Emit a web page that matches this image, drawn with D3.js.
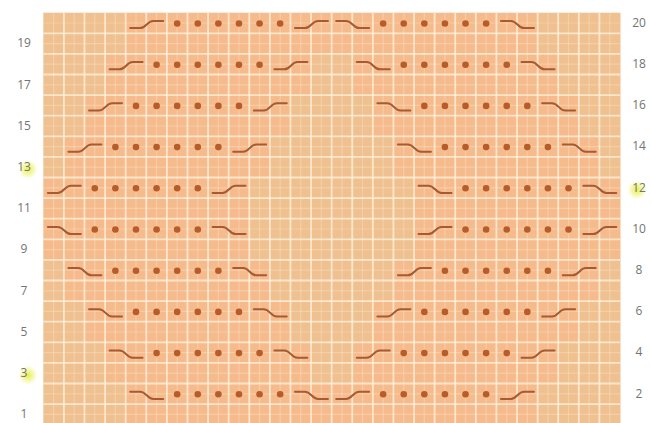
<!DOCTYPE html>
<html><head><meta charset="utf-8">
<script src="https://cdn.jsdelivr.net/npm/d3@7"></script>
<style>html,body{margin:0;padding:0;background:#fff;}svg{display:block;}</style>
</head><body>
<script>
// ---- data ----
const nCols = 28;
const rowLabelsLeft = [1,3,5,7,9,11,13,15,17,19];
const rowLabelsRight = [2,4,6,8,10,12,14,16,18,20];
const highlighted = [13,3,12];
// cable crossing symbols: [row, first column] (each spans two columns)
const cablesUp = [[20,4],[20,12],[18,3],[18,11],[16,2],[16,10],[14,1],[14,9],[12,0],[12,8],
                  [10,18],[10,26],[8,17],[8,25],[6,16],[6,24],[4,15],[4,23],[2,14],[2,22]];
const cablesDown = [[20,14],[20,22],[18,15],[18,23],[16,16],[16,24],[14,17],[14,25],[12,18],[12,26],
                    [10,0],[10,8],[8,1],[8,9],[6,2],[6,10],[4,3],[4,11],[2,4],[2,12]];
// dot (purl) cells per row
const dotRows = [20,18,16,14,12,10,8,6,4,2];
const dotCols = [
  [6,7,8,9,10,11,16,17,18,19,20,21],
  [5,6,7,8,9,10,17,18,19,20,21,22],
  [4,5,6,7,8,9,18,19,20,21,22,23],
  [3,4,5,6,7,8,19,20,21,22,23,24],
  [2,3,4,5,6,7,20,21,22,23,24,25],
  [2,3,4,5,6,7,20,21,22,23,24,25],
  [3,4,5,6,7,8,19,20,21,22,23,24],
  [4,5,6,7,8,9,18,19,20,21,22,23],
  [5,6,7,8,9,10,17,18,19,20,21,22],
  [6,7,8,9,10,11,16,17,18,19,20,21]
];

// ---- drawing ----
const W = 651, H = 423;
const svg = d3.select("body").append("svg").attr("width", W).attr("height", H);
const defs = svg.append("defs");
const rg = defs.append("radialGradient").attr("id","hl");
rg.append("stop").attr("offset","0%").attr("stop-color","#e6ee48").attr("stop-opacity",1);
rg.append("stop").attr("offset","55%").attr("stop-color","#eef37a").attr("stop-opacity",0.6);
rg.append("stop").attr("offset","100%").attr("stop-color","#f6f8a0").attr("stop-opacity",0);
const blur = defs.append("filter").attr("id","soft");
blur.append("feGaussianBlur").attr("stdDeviation",0.7);
const blurG = defs.append("filter").attr("id","softg");
blurG.append("feGaussianBlur").attr("stdDeviation",0.5);

const rows = d3.range(20, 0, -1);
const x = d3.scaleBand().domain(d3.range(nCols)).range([43.3, 620]).padding(0);
const y = d3.scaleBand().domain(rows).range([12.7, 424.7]).padding(0);
const cw = x.bandwidth(), ch = y.bandwidth();

// band cells (pink tint) = symbol cells in even rows and the odd row below
const bandSet = new Set();
function addBand(r, c){ bandSet.add(r+"_"+c); if (r-1>=1) bandSet.add((r-1)+"_"+c); }
dotRows.forEach((r,i)=>dotCols[i].forEach(c=>addBand(r,c)));
cablesUp.concat(cablesDown).forEach(([r,c])=>{addBand(r,c); addBand(r,c+1);});

const cells = [];
rows.forEach(r=>d3.range(nCols).forEach(c=>cells.push({r,c})));
const g = svg.append("g");
g.selectAll("rect.cell").data(cells).join("rect").attr("class","cell")
  .attr("x", d=>x(d.c)).attr("y", d=>y(d.r))
  .attr("width", cw+0.5).attr("height", ch+0.5)
  .attr("fill", d=> bandSet.has(d.r+"_"+d.c) ? "#f5bb8d" : "#efc190");

// minor half lines
const gl = svg.append("g").attr("filter","url(#softg)");
gl.selectAll("line.vm").data(d3.range(nCols)).join("line")
  .attr("x1", c=>x(c)+cw/2).attr("x2", c=>x(c)+cw/2)
  .attr("y1", 12.7).attr("y2", 424.7)
  .attr("stroke","#fde8cc").attr("stroke-width",1.2).attr("opacity",0.35);
gl.selectAll("line.hm").data(rows).join("line")
  .attr("y1", r=>y(r)+ch/2).attr("y2", r=>y(r)+ch/2)
  .attr("x1", 43.3).attr("x2", 620)
  .attr("stroke","#fde8cc").attr("stroke-width",1.2).attr("opacity",0.35);
// main grid lines
gl.selectAll("line.v").data(d3.range(1,nCols)).join("line")
  .attr("x1", c=>x(c)).attr("x2", c=>x(c))
  .attr("y1", 12.7).attr("y2", 424.7)
  .attr("stroke","#fff3df").attr("stroke-width",1.8).attr("opacity",0.75);
gl.selectAll("line.h").data(rows.slice(1)).join("line")
  .attr("y1", r=>y(r)).attr("y2", r=>y(r))
  .attr("x1", 43.3).attr("x2", 620)
  .attr("stroke","#fff3df").attr("stroke-width",1.8).attr("opacity",0.75);

// dots
const dotData = [];
dotRows.forEach((r,i)=>dotCols[i].forEach(c=>dotData.push({r,c})));
svg.append("g").attr("filter","url(#soft)").selectAll("circle").data(dotData).join("circle")
  .attr("cx", d=>x(d.c)+cw/2).attr("cy", d=>y(d.r)+ch/2+0.5)
  .attr("r", 3.3).attr("fill","#b85c2c");

// cables
function cablePath(r, c, up){
  const x0 = x(c), w = 2*cw, yc = y(r)+ch/2+1.5, a = 3.6;
  const s = up ? 1 : -1;
  const p = d3.path();
  p.moveTo(x0+0.11*w, yc+s*a);
  p.lineTo(x0+0.35*w, yc+s*a);
  p.bezierCurveTo(x0+0.5*w, yc+s*a, x0+0.52*w, yc-s*a, x0+0.67*w, yc-s*a);
  p.lineTo(x0+0.91*w, yc-s*a);
  return p.toString();
}
const cg = svg.append("g").attr("filter","url(#soft)").attr("fill","none")
  .attr("stroke","#a85a30").attr("stroke-width",2).attr("stroke-linecap","round");
cg.selectAll("path.up").data(cablesUp).join("path").attr("d", d=>cablePath(d[0], d[1], true));
cg.selectAll("path.dn").data(cablesDown).join("path").attr("d", d=>cablePath(d[0], d[1], false));

// row labels
function yc(r){ return y(r)+ch/2; }
const lab = svg.append("g");
lab.selectAll("circle.hl").data(highlighted).join("circle")
  .attr("cx", r=> r%2 ? 28 : 637).attr("cy", r=>yc(r)+2).attr("r", 10)
  .attr("fill","url(#hl)");
const leftAxis = d3.axisLeft(y).tickValues(rowLabelsLeft).tickSize(0).tickPadding(0);
const rightAxis = d3.axisRight(y).tickValues(rowLabelsRight).tickSize(0).tickPadding(0);
const la = svg.append("g").attr("transform","translate(24,0)").call(leftAxis);
const ra = svg.append("g").attr("transform","translate(639,0)").call(rightAxis);
[la, ra].forEach(ax=>{
  ax.select(".domain").remove();
  ax.selectAll("text").attr("x",0).attr("text-anchor","middle")
    .attr("font-family","'Open Sans', 'Liberation Sans', sans-serif")
    .attr("font-size",12).attr("fill","#747474");
});
</script>
</body></html>
